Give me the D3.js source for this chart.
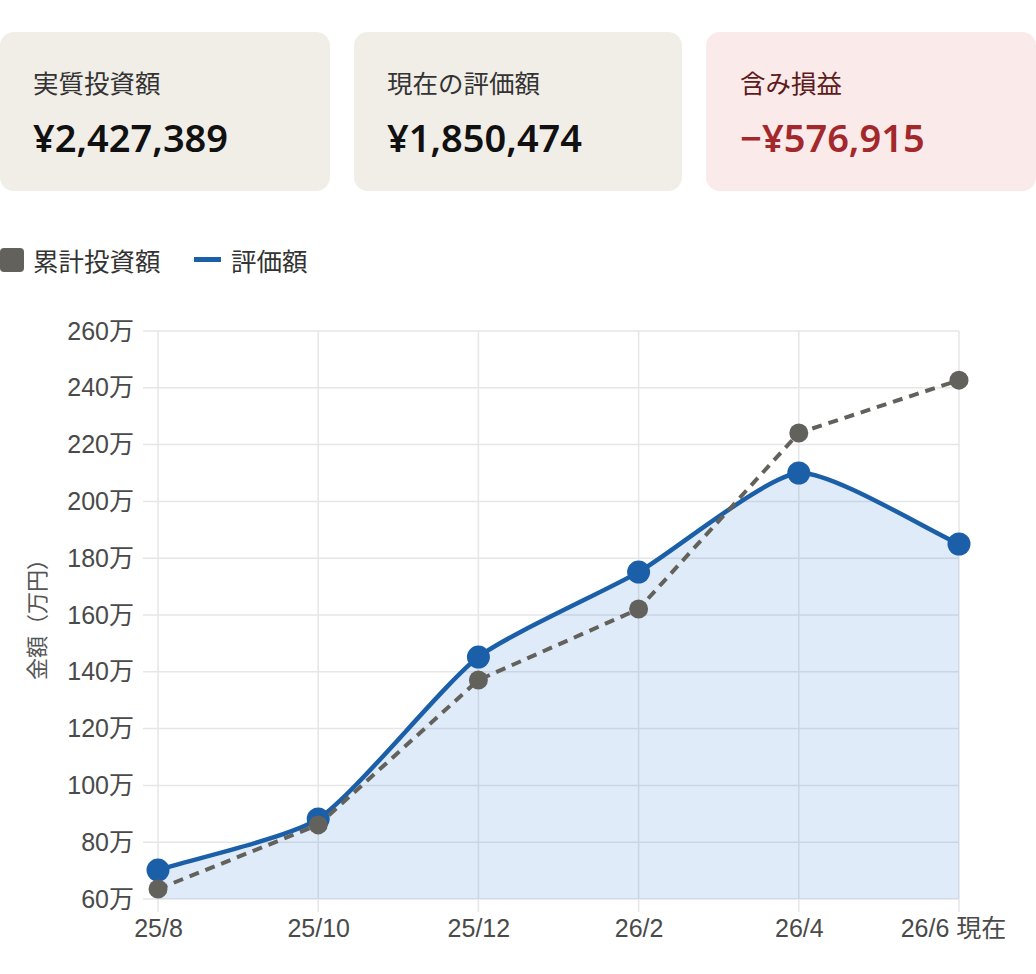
<!DOCTYPE html>
<html>
<head>
<meta charset="utf-8">
<script src="https://cdn.jsdelivr.net/npm/d3@7"></script>
<style>
  html, body { margin: 0; padding: 0; background: #fff; }
  svg { display: block; }
</style>
</head>
<body>
<div id="chart-area"></div>
<script>
// data
const months = ["25/8", "25/10", "25/12", "26/2", "26/4", "26/6 現在"];
const invested = [63.5, 86.1, 137.1, 162.1, 224.1, 242.7];   // 累計投資額 (万円)
const valuation = [70.2, 88.2, 145.2, 175.1, 210.0, 185.0];  // 評価額 (万円)
const yTicks = [60, 80, 100, 120, 140, 160, 180, 200, 220, 240, 260];

const cardLabels = ["実質投資額", "現在の評価額", "含み損益"];
const cardValues = ["¥2,427,389", "¥1,850,474", "−¥576,915"];

const svgWidth = 1036;
const svgHeight = 974;
const cjk = "'Noto Sans', 'Noto Sans CJK JP', sans-serif";
const tickFont = "'Liberation Sans', Arial, 'Noto Sans CJK JP', sans-serif";

const svg = d3.select("#chart-area")
  .append("svg")
  .attr("width", svgWidth)
  .attr("height", svgHeight);

// summary cards
const cardX = [0, 354, 706];
const cardW = [330, 328, 330];
const cards = svg.selectAll("g.card")
  .data(cardLabels)
  .enter()
  .append("g")
  .attr("class", "card")
  .attr("transform", (d, i) => `translate(${cardX[i]},32)`);

cards.append("rect")
  .attr("width", (d, i) => cardW[i])
  .attr("height", 159)
  .attr("rx", 14)
  .attr("fill", (d, i) => i === 2 ? "#fbeaea" : "#f1eee8");

cards.append("text")
  .attr("x", (d, i) => i === 2 ? 34 : 33)
  .attr("y", 61)
  .attr("font-family", cjk)
  .attr("font-size", 25.5)
  .attr("fill", (d, i) => i === 2 ? "#5e1b1b" : "#333")
  .text(d => d);

cards.append("text")
  .attr("x", (d, i) => i === 2 ? 34 : 33)
  .attr("y", 120)
  .attr("font-family", cjk)
  .attr("font-size", 38)
  .attr("font-weight", 600)
  .attr("fill", (d, i) => i === 2 ? "#a3282c" : "#111")
  .text((d, i) => cardValues[i]);

// legend
const legend = svg.append("g");
legend.append("rect")
  .attr("x", 0).attr("y", 248)
  .attr("width", 24).attr("height", 24)
  .attr("rx", 4)
  .attr("fill", "#63615c");
legend.append("text")
  .attr("x", 33).attr("y", 271)
  .attr("font-family", cjk).attr("font-size", 25.5)
  .attr("fill", "#333")
  .text("累計投資額");
legend.append("rect")
  .attr("x", 194).attr("y", 257)
  .attr("width", 27).attr("height", 5)
  .attr("fill", "#1a5fa8");
legend.append("text")
  .attr("x", 231).attr("y", 271)
  .attr("font-family", cjk).attr("font-size", 25.5)
  .attr("fill", "#333")
  .text("評価額");

// chart
const margin = { top: 331, left: 158, right: 77 };
const chartWidth = svgWidth - margin.left - margin.right;
const chartHeight = 568;

const x = d3.scalePoint()
  .domain(months)
  .range([0, chartWidth]);

const y = d3.scaleLinear()
  .domain([60, 260])
  .range([chartHeight, 0]);

const g = svg.append("g")
  .attr("transform", `translate(${margin.left},${margin.top})`);

// grid
g.selectAll("line.hgrid")
  .data(yTicks)
  .enter()
  .append("line")
  .attr("x1", -15).attr("x2", chartWidth)
  .attr("y1", d => y(d)).attr("y2", d => y(d))
  .attr("stroke", "#e6e6e6")
  .attr("stroke-width", 1.5);

g.selectAll("line.vgrid")
  .data(months)
  .enter()
  .append("line")
  .attr("x1", d => x(d)).attr("x2", d => x(d))
  .attr("y1", 0).attr("y2", chartHeight + 13)
  .attr("stroke", "#e6e6e6")
  .attr("stroke-width", 1.5);

// axes labels via d3 axes
const yAxis = g.append("g")
  .attr("transform", "translate(-15,0)")
  .call(d3.axisLeft(y).tickValues(yTicks).tickSize(0).tickPadding(9).tickFormat(d => d + "万"));
yAxis.select(".domain").remove();
yAxis.selectAll("text")
  .attr("font-family", tickFont)
  .attr("font-size", 25)
  .attr("fill", "#4a4a4a");

const xAxis = g.append("g")
  .attr("transform", `translate(0,${chartHeight})`)
  .call(d3.axisBottom(x).tickSize(0).tickPadding(20));
xAxis.select(".domain").remove();
xAxis.selectAll("text")
  .attr("font-family", tickFont)
  .attr("font-size", 25)
  .attr("fill", "#4a4a4a")
  .attr("dx", (d, i) => i === months.length - 1 ? -6 : 0);

// y axis title
svg.append("text")
  .attr("transform", "translate(45,614) rotate(-90)")
  .attr("text-anchor", "middle")
  .attr("font-family", "'Noto Sans CJK JP', sans-serif")
  .attr("font-size", 22)
  .attr("fill", "#555")
  .text("金額（万円）");

// spline through points (distance weighted)
function splinePath(values, closeToBottom) {
  const pts = values.map((v, i) => [x(months[i]), y(v)]);
  const t = 0.2;
  const cps = pts.map((p, i) => {
    const prev = pts[i - 1] || p;
    const next = pts[i + 1] || p;
    const d01 = Math.hypot(p[0] - prev[0], p[1] - prev[1]);
    const d12 = Math.hypot(next[0] - p[0], next[1] - p[1]);
    let s01 = d01 / (d01 + d12);
    let s12 = d12 / (d01 + d12);
    if (isNaN(s01)) s01 = 0;
    if (isNaN(s12)) s12 = 0;
    const fa = t * s01, fb = t * s12;
    const clampY = v => Math.max(0, Math.min(chartHeight, v));
    return {
      prev: [p[0] - fa * (next[0] - prev[0]), clampY(p[1] - fa * (next[1] - prev[1]))],
      next: [p[0] + fb * (next[0] - prev[0]), clampY(p[1] + fb * (next[1] - prev[1]))]
    };
  });
  const path = d3.path();
  path.moveTo(pts[0][0], pts[0][1]);
  for (let i = 1; i < pts.length; i++) {
    const a = cps[i - 1].next, b = cps[i].prev;
    path.bezierCurveTo(a[0], a[1], b[0], b[1], pts[i][0], pts[i][1]);
  }
  if (closeToBottom) {
    path.lineTo(pts[pts.length - 1][0], y(60));
    path.lineTo(pts[0][0], y(60));
    path.closePath();
  }
  return path.toString();
}

g.append("path")
  .attr("d", splinePath(valuation, true))
  .attr("fill", "rgba(40,120,210,0.15)");

g.append("path")
  .attr("d", splinePath(valuation, false))
  .attr("fill", "none")
  .attr("stroke", "#1a5fa8")
  .attr("stroke-width", 4.5);

g.selectAll("circle.val")
  .data(valuation)
  .enter()
  .append("circle")
  .attr("cx", (d, i) => x(months[i]))
  .attr("cy", d => y(d))
  .attr("r", 11.5)
  .attr("fill", "#1a5fa8");

// invested line
const straight = d3.line()
  .x((d, i) => x(months[i]))
  .y(d => y(d));

g.append("path")
  .datum(invested)
  .attr("d", straight)
  .attr("fill", "none")
  .attr("stroke", "#63615c")
  .attr("stroke-width", 4)
  .attr("stroke-dasharray", "10,7");

g.selectAll("circle.inv")
  .data(invested)
  .enter()
  .append("circle")
  .attr("cx", (d, i) => x(months[i]))
  .attr("cy", d => y(d))
  .attr("r", 9.5)
  .attr("fill", "#63615c");
</script>
</body>
</html>
